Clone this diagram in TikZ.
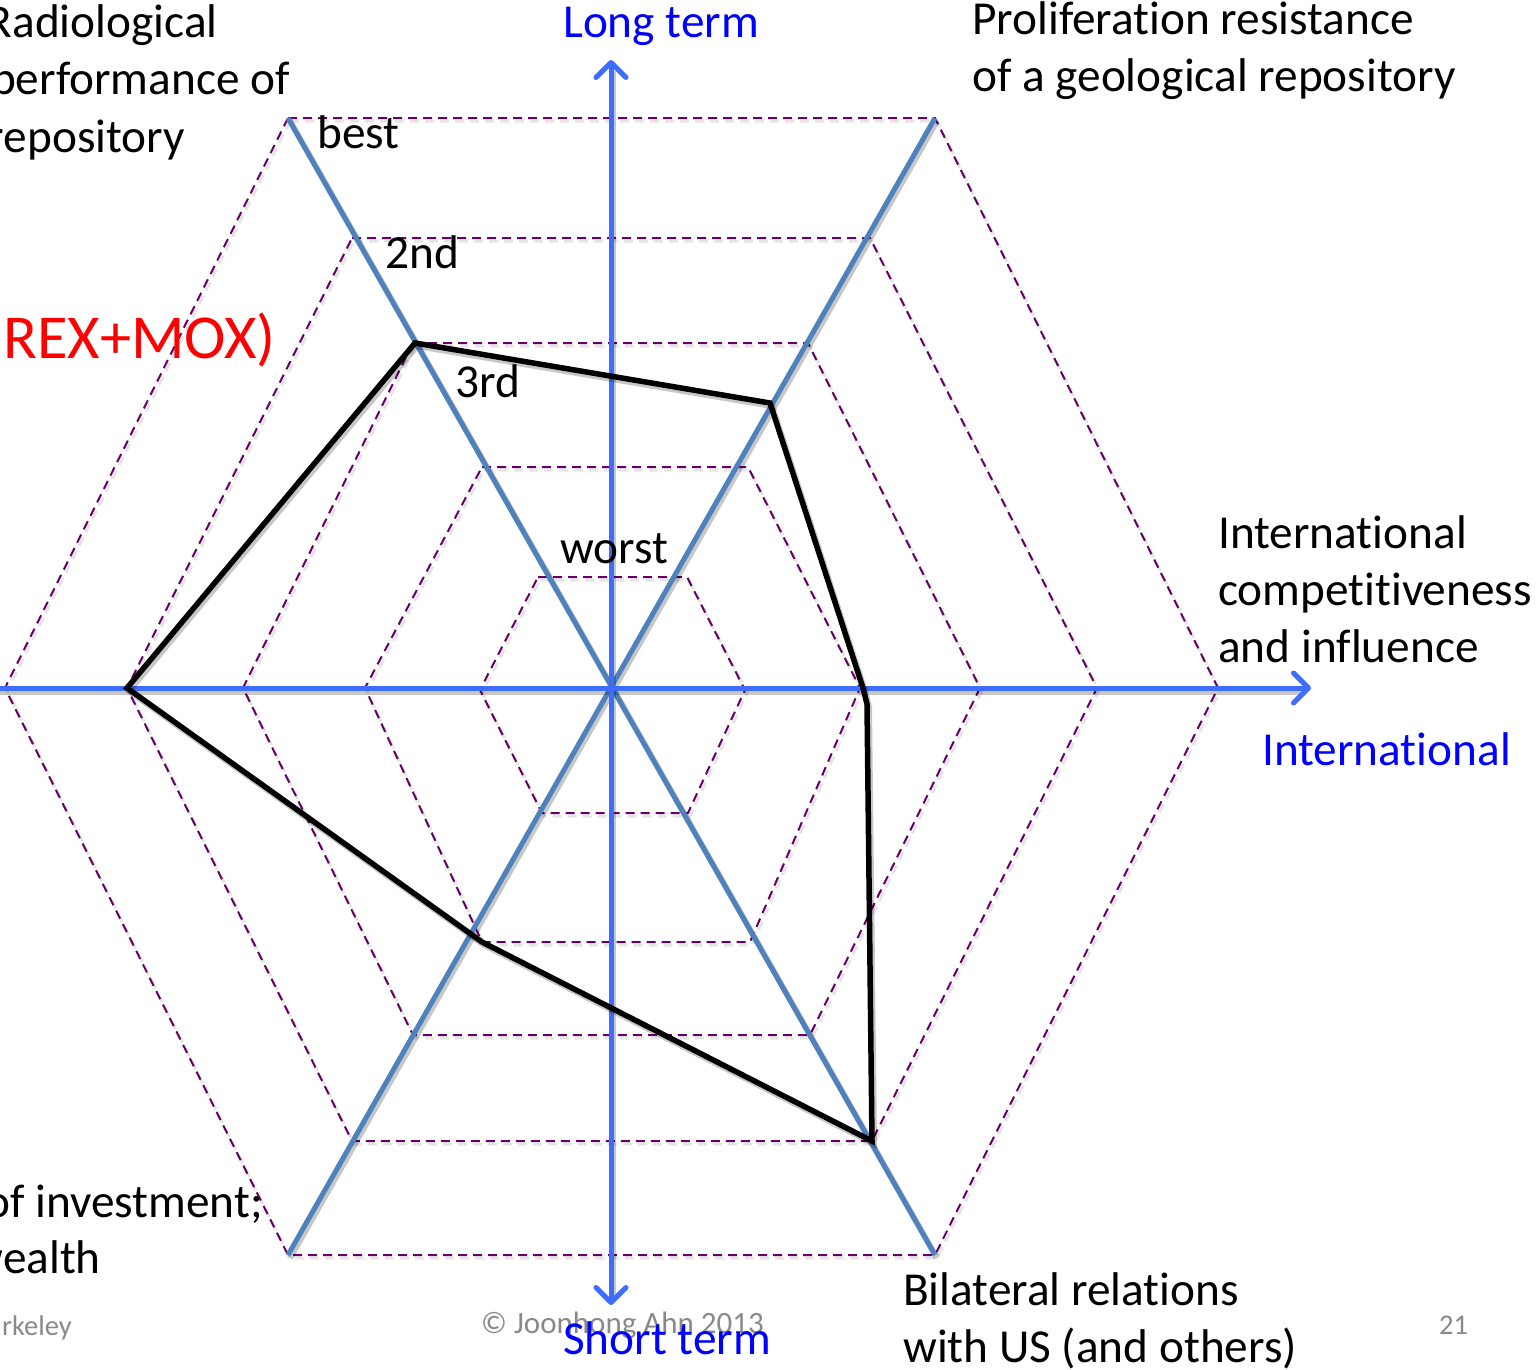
\documentclass[tikz,border=0pt]{standalone}
\usepackage{fontspec}
\setmainfont{Carlito}[Ligatures={NoCommon}]
\usetikzlibrary{arrows.meta}
\definecolor{axisblue}{RGB}{61,108,255}
\definecolor{diagblue}{RGB}{79,129,189}
\definecolor{hexpurple}{RGB}{102,0,102}
\definecolor{footgray}{RGB}{137,137,137}
\tikzset{
  lbl/.style={inner sep=0pt, font=\fontsize{47.3}{57}\selectfont},
  bluelbl/.style={lbl, text=blue},
  footlbl/.style={inner sep=0pt, font=\fontsize{28.5}{34}\selectfont, text=footgray},
  hexline/.style={draw=hexpurple, line width=2pt, dash pattern=on 9pt off 6pt},
  hexshadow/.style={draw=black, opacity=0.10, line width=3pt, dash pattern=on 9pt off 6pt, shift={(2,3)}},
  axisline/.style={draw=axisblue, line width=5pt},
  diagline/.style={draw=diagblue, line width=5pt},
  polyline/.style={draw=black, line width=5.5pt, line join=miter},
  shadowline/.style={draw=black, opacity=0.22, line width=6pt},
  barb/.tip={Straight Barb[length=15pt,width=30pt,round]}
}
\newcommand\myhexagons[1]{%
\draw[#1] (288,118) -- (935,118) -- (1218,688) -- (935,1255) -- (288,1255) -- (5,688) -- cycle;
\draw[#1] (352,238) -- (870,238) -- (1097,688) -- (872,1141) -- (352,1141) -- (127,688) -- cycle;
\draw[#1] (413,343) -- (808,343) -- (980,688) -- (810,1035) -- (413,1035) -- (243,688) -- cycle;
\draw[#1] (482,467) -- (748,467) -- (860,688) -- (750,942) -- (482,942) -- (365,688) -- cycle;
\draw[#1] (538,577) -- (687,577) -- (745,690) -- (688,813) -- (542,813) -- (480,690) -- cycle;}
\begin{document}
\begin{tikzpicture}[x=1pt,y=-1pt]
\useasboundingbox (0,0) rectangle (1537,1369);
\fill[white] (0,0) rectangle (1537,1369);
\clip (0,0) rectangle (1537,1369);

% named points
\coordinate (ctr) at (611,688);
\coordinate (vtop) at (611,60);
\coordinate (vbot) at (611,1305);
\coordinate (hleft) at (-30,688);
\coordinate (hright) at (1311,688);
\coordinate (dTL) at (288,118);
\coordinate (dTR) at (935,118);
\coordinate (dBL) at (288,1255);
\coordinate (dBR) at (935,1255);

% dashed hexagons (shadow, then line)
\myhexagons{hexshadow}
\myhexagons{hexline}

% diagonal axes
\draw[shadowline, shift={(2,3)}] (288,118) -- (935,1255);
\draw[shadowline, shift={(2,3)}] (935,118) -- (288,1255);
\draw[diagline] (dTL) -- (dBR);
\draw[diagline] (dTR) -- (dBL);

% main axes
\draw[shadowline, shift={(1,4)}] (-30,688) -- (1300,688);
\draw[shadowline, shift={(2,1)}] (611,1295) -- (611,70);
\draw[axisline, -barb] (hleft) -- (hright);
\draw[axisline, barb-barb] (vbot) -- (vtop);

% evaluation polygon
\draw[shadowline, shift={(2,3)}] (415,343) -- (770,403) -- (863,688) -- (867,704) -- (872,1141) -- (482,942) -- (127,688) -- cycle;
\draw[polyline] (415,343) -- (770,403) -- (863,688) -- (867,704) -- (872,1141) -- (482,942) -- (127,688) -- cycle;

% labels
\node[lbl, anchor=base east] (rad1) at (218,37) {Radiological};
\node[lbl, anchor=base east] (rad2) at (290,94) {performance of};
\node[lbl, anchor=base east] (rad3) at (185,152) {repository};
\node[bluelbl, anchor=base west] (lt) at (563,37) {Long term};
\node[lbl, anchor=base west] (pr1) at (972,34) {Proliferation resistance};
\node[lbl, anchor=base west] (pr2) at (972,91) {of a geological repository};
\node[lbl, anchor=base west] (best) at (317,148) {best};
\node[lbl, anchor=base west] (second) at (385,268) {2nd};
\node[lbl, anchor=base west] (third) at (455,397) {3rd};
\node[lbl, anchor=base west] (worst) at (560,563) {worst};
\node[inner sep=0pt, font=\fontsize{62.5}{70}\selectfont, text=red, anchor=base west] (rex) at (3,358) {REX+MOX)};
\node[lbl, anchor=base west] (ic1) at (1218,548) {International};
\node[lbl, anchor=base west] (ic2) at (1218,605) {competitiveness};
\node[lbl, anchor=base west] (ic3) at (1218,662) {and influence};
\node[bluelbl, anchor=base west] (intl) at (1262,765) {International};
\node[lbl, anchor=base east] (inv1) at (263,1217) {of investment;};
\node[lbl, anchor=base east] (inv2) at (101,1273) {wealth};
\node[lbl, anchor=base west] (bi1) at (903,1305) {Bilateral relations};
\node[lbl, anchor=base west] (bi2) at (903,1362) {with US (and others)};
\node[footlbl, anchor=base west, font=\fontsize{31}{36}\selectfont] (copy) at (481,1333) {© Joonhong Ahn 2013};
\node[bluelbl, anchor=base west] (st) at (563,1354) {Short term};
\node[footlbl, anchor=base west] (pg) at (1439,1334) {21};
\node[footlbl, anchor=base west] (berk) at (2,1335) {rkeley};
\end{tikzpicture}
\end{document}
